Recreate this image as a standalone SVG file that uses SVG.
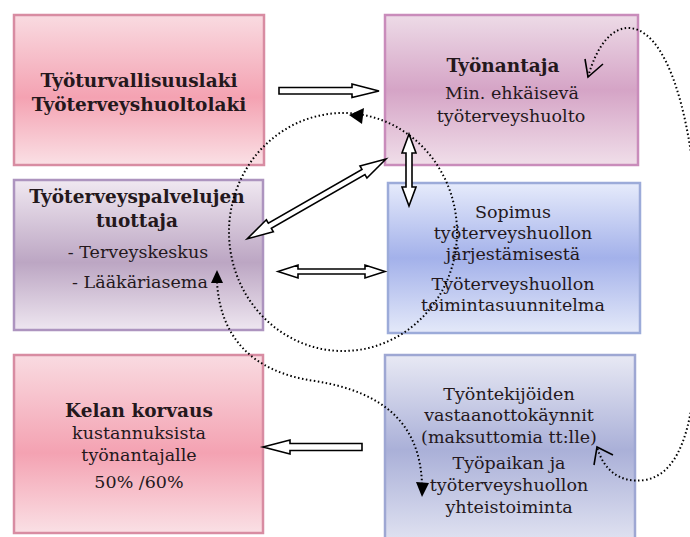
<svg xmlns="http://www.w3.org/2000/svg" width="690" height="537" viewBox="0 0 690 537">
<defs>
<linearGradient id="gPink" x1="0" y1="0" x2="0" y2="1">
<stop offset="0" stop-color="#f9dbe1"/><stop offset="0.55" stop-color="#f4a2b2"/><stop offset="1" stop-color="#fae0e5"/>
</linearGradient>
<linearGradient id="gMauve" x1="0" y1="0" x2="0" y2="1">
<stop offset="0" stop-color="#eddbe7"/><stop offset="0.5" stop-color="#d5a4c6"/><stop offset="1" stop-color="#f0dee9"/>
</linearGradient>
<linearGradient id="gPurple" x1="0" y1="0" x2="0" y2="1">
<stop offset="0" stop-color="#f0e8f1"/><stop offset="0.55" stop-color="#bca6c3"/><stop offset="1" stop-color="#eee6f0"/>
</linearGradient>
<linearGradient id="gBlue" x1="0" y1="0" x2="0" y2="1">
<stop offset="0" stop-color="#e6ebfb"/><stop offset="0.5" stop-color="#a3b1ea"/><stop offset="1" stop-color="#e4e9f9"/>
</linearGradient>
<linearGradient id="gSlate" x1="0" y1="0" x2="0" y2="1">
<stop offset="0" stop-color="#e8e9f4"/><stop offset="0.5" stop-color="#aab0d8"/><stop offset="1" stop-color="#e2e4f2"/>
</linearGradient>
</defs>
<style>
text{font-family:"DejaVu Serif","Liberation Serif",serif;fill:#24181c;text-anchor:middle;}
.b{font-weight:bold;font-size:18.5px;}
.n{font-size:17.5px;}
.box{stroke-width:2.5;}
.hollow{fill:#fff;stroke:#000;stroke-width:1.6;stroke-linejoin:miter;}
.dot{fill:none;stroke:#000;stroke-width:2;stroke-dasharray:1.5 2.5;stroke-linecap:butt;}
.open{fill:none;stroke:#000;stroke-width:1.6;}
</style>
<rect width="690" height="537" fill="#fff"/>

<g id="node-laki">
<rect x="14" y="15" width="250" height="150" fill="url(#gPink)" stroke="#d88ca2" class="box"/>
<text class="b" x="139" y="87">Työturvallisuuslaki</text>
<text class="b" x="139" y="111">Työterveyshuoltolaki</text>
</g>

<g id="node-tyonantaja">
<rect x="385" y="15" width="253" height="150" fill="url(#gMauve)" stroke="#c98cbb" class="box"/>
<text class="b" x="503" y="72">Työnantaja</text>
<text class="n" x="512" y="99">Min. ehkäisevä</text>
<text class="n" x="511" y="122">työterveyshuolto</text>
</g>

<g id="node-tuottaja">
<rect x="14" y="180" width="249" height="150" fill="url(#gPurple)" stroke="#ad94bf" class="box"/>
<text class="b" x="137" y="203">Työterveyspalvelujen</text>
<text class="b" x="137" y="227">tuottaja</text>
<text class="n" x="138" y="258">- Terveyskeskus</text>
<text class="n" x="140" y="288">- Lääkäriasema</text>
</g>

<g id="node-sopimus">
<rect x="388" y="183" width="252" height="150" fill="url(#gBlue)" stroke="#9cabd9" class="box"/>
<text class="n" x="513" y="218">Sopimus</text>
<text class="n" x="513" y="239">työterveyshuollon</text>
<text class="n" x="513" y="260">järjestämisestä</text>
<text class="n" x="513" y="290">Työterveyshuollon</text>
<text class="n" x="513" y="311">toimintasuunnitelma</text>
</g>

<g id="node-kela">
<rect x="14" y="355" width="249" height="178" fill="url(#gPink)" stroke="#d88ca2" class="box"/>
<text class="b" x="139" y="417">Kelan korvaus</text>
<text class="n" x="139" y="439">kustannuksista</text>
<text class="n" x="139" y="461">työnantajalle</text>
<text class="n" x="139" y="488">50% /60%</text>
</g>

<g id="node-tyontekijat">
<rect x="385" y="355" width="250" height="190" fill="url(#gSlate)" stroke="#9ea7d3" class="box"/>
<text class="n" x="509" y="400">Työntekijöiden</text>
<text class="n" x="509" y="421">vastaanottokäynnit</text>
<text class="n" x="509" y="443">(maksuttomia tt:lle)</text>
<text class="n" x="509" y="469">Työpaikan ja</text>
<text class="n" x="509" y="491">työterveyshuollon</text>
<text class="n" x="509" y="513">yhteistoiminta</text>
</g>

<g id="connectors">
<path class="hollow" d="M279,87.5 H352 V84 L379,91 L352,97.5 V94 H279 Z"/>
<g transform="translate(386,159) rotate(150.1)">
<path class="hollow" d="M0,0 L26,-7 V-3 H134 V-7 L160,0 L134,7 V3 H26 V7 Z"/>
</g>
<path class="hollow" d="M409,134 L416,153 H412 V187 H416 L409,206 L402,187 H406 V153 H402 Z"/>
<path class="hollow" d="M278,271.5 L298,265 V269 H365 V265 L385,271.5 L365,278 V274 H298 V278 Z"/>
<path class="hollow" d="M263,447 L290,440 V443.5 H362 V450.5 H290 V454 Z"/>

<ellipse class="dot" cx="343" cy="232" rx="114" ry="119"/>
<path d="M349,115 L364,108 L362,124 Z" fill="#000"/>

<path class="dot" d="M217,282 C220,335 250,372 315,381 C385,392 420,425 422,484"/>
<path d="M217,270 L223,283 L211,283 Z" fill="#000"/>
<path d="M422,497 L416,482 L429,483 Z" fill="#000"/>

<path class="dot" d="M588,77 C597,45 612,27 630,28 C675,32 698,150 698,250 C698,350 702,470 645,480 C618,484 603,468 597,447"/>
<path class="open" d="M603,64 L588,77 L585,59"/>
<path class="open" d="M613,455 L597,447 L594,465"/>
</g>
</svg>
